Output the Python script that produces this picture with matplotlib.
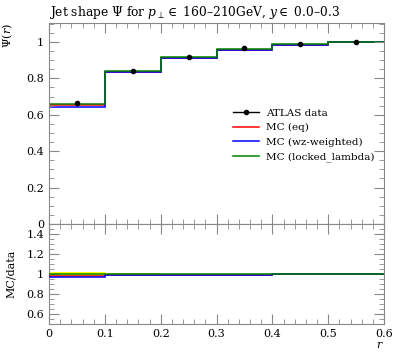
"""
Jet shape Psi(r) for ATLAS data vs three MC tunes, with MC/data ratio panel.
"""
import matplotlib
matplotlib.use("Agg")
import matplotlib.pyplot as plt
from matplotlib.lines import Line2D
from matplotlib.ticker import MultipleLocator
import numpy as np

plt.rcParams["font.family"] = ["DejaVu Serif"]
plt.rcParams["mathtext.fontset"] = "dejavuserif"

edges = [0.0, 0.1, 0.2, 0.3, 0.4, 0.5, 0.6]
data = [0.663, 0.842, 0.919, 0.964, 0.986, 1.0]
data_err = [0.013, 0.005, 0.004, 0.003, 0.002, 0.001]
mc_eq = [0.652, 0.836, 0.913, 0.957, 0.983, 1.0]
mc_wz = [0.645, 0.834, 0.911, 0.955, 0.982, 1.0]
mc_locked = [0.661, 0.843, 0.918, 0.962, 0.986, 1.0]

series = [
    ("MC (eq)", mc_eq, "red"),
    ("MC (wz-weighted)", mc_wz, "blue"),
    ("MC (locked_lambda)", mc_locked, "green"),
]

edges = np.array(edges)
data = np.array(data)
data_err = np.array(data_err)
centers = 0.5 * (edges[:-1] + edges[1:])

W, H = 397, 358
fig = plt.figure(figsize=(W / 100, H / 100), dpi=100)
ax = fig.add_axes([49 / W, 1 - 224 / H, (384 - 49) / W, (224 - 23) / H])
rax = fig.add_axes([49 / W, 1 - 324 / H, (384 - 49) / W, 100 / H])

for label, vals, col in series:
    ax.stairs(vals, edges, baseline=None, color=col, lw=1.1)
ax.errorbar(centers, data, yerr=data_err, fmt="o", color="black", ms=3,
            lw=0.9, capsize=0, zorder=5)

# ratio panel: yellow band = data uncertainty
rel = data_err / data
rax.fill_between(edges, np.r_[1 - rel, 1 - rel[-1]], np.r_[1 + rel, 1 + rel[-1]],
                 step="post", color="yellow", lw=0, zorder=1)
for label, vals, col in series:
    rax.stairs(np.array(vals) / data, edges, baseline=None, color=col, lw=1.1, zorder=3)

for a in (ax, rax):
    a.set_xlim(0, 0.6)
    a.xaxis.set_minor_locator(MultipleLocator(0.02))
    a.yaxis.set_minor_locator(MultipleLocator(0.05))
    a.tick_params(which="both", direction="in", top=True, right=True,
                  color="#888888", labelsize=8)
    a.tick_params(which="major", length=7)
    a.tick_params(which="minor", length=3.5)
    for s in a.spines.values():
        s.set_color("#888888")

xt = [0, 0.1, 0.2, 0.3, 0.4, 0.5, 0.6]
ax.set_xticks(xt)
rax.set_xticks(xt)
rax.set_xticklabels(["0", "0.1", "0.2", "0.3", "0.4", "0.5", "0.6"])
ax.tick_params(labelbottom=False)

ax.set_ylim(0, 1.104)
ax.set_yticks([0, 0.2, 0.4, 0.6, 0.8, 1.0])
ax.set_yticklabels(["0", "0.2", "0.4", "0.6", "0.8", "1"])
rax.set_ylim(0.5, 1.5)
rax.set_yticks([0.6, 0.8, 1.0, 1.2, 1.4])
rax.set_yticklabels(["0.6", "0.8", "1", "1.2", "1.4"])

ax.set_title(r"Jet shape $\Psi$ for $p_\perp \in$ 160–210GeV, $y \in$ 0.0–0.3",
             loc="left", fontsize=8.8, pad=5)
ax.set_ylabel(r"$\Psi(r)$", fontsize=8, loc="top")
rax.set_ylabel("MC/data", fontsize=8)
rax.set_xlabel(r"$r$", fontsize=8, loc="right", labelpad=1)
ax.yaxis.set_label_coords(-0.1, 1.0)
rax.yaxis.set_label_coords(-0.1, 0.5)

handles = [Line2D([], [], color="black", marker="o", ms=3, lw=1.0)]
handles += [Line2D([], [], color=c, lw=1.1) for _, _, c in series]
labels = ["ATLAS data"] + [s[0] for s in series]
ax.legend(handles, labels, loc="upper left", bbox_to_anchor=(0.533, 0.6),
          frameon=False, fontsize=7.5, handlelength=2.5, labelspacing=0.5,
          borderpad=0, handletextpad=0.7)

fig.savefig("out.png", dpi=100)
